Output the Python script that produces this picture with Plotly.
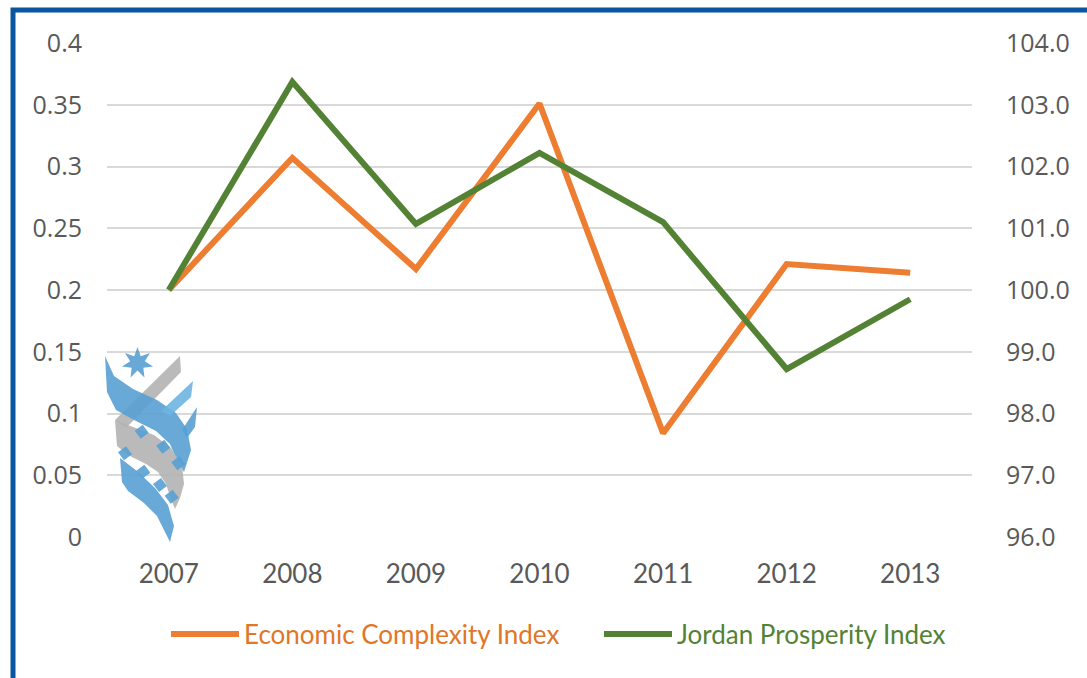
import plotly.graph_objects as go
import math

years = ["2007", "2008", "2009", "2010", "2011", "2012", "2013"]
eci = [0.200, 0.307, 0.217, 0.351, 0.084, 0.221, 0.214]
jpi = [100.0, 103.37, 101.07, 102.22, 101.10, 98.72, 99.85]
left_ticks = [0, 0.05, 0.1, 0.15, 0.2, 0.25, 0.3, 0.35, 0.4]
left_labels = ["0", "0.05", "0.1", "0.15", "0.2", "0.25", "0.3", "0.35", "0.4"]
right_ticks = [96, 97, 98, 99, 100, 101, 102, 103, 104]
right_labels = ["96.0", "97.0", "98.0", "99.0", "100.0", "101.0", "102.0", "103.0", "104.0"]

ORANGE = "#ED7D31"
GREEN = "#548235"
W, H = 1087, 678
PL, PR, PT, PB = 107, 972, 43, 537  # plot area in page pixels
L, T = PL, PT
R, B = W - PR, H - PB
PW, PH = PR - PL, PB - PT

def px(x, y):
    return (x - PL) / PW, (PB - y) / PH

def path(points):
    s = ""
    for i, (x, y) in enumerate(points):
        a, b = px(x, y)
        s += ("M" if i == 0 else "L") + f"{a:.5f},{b:.5f} "
    return s + "Z"

NARROW = "Lato, Liberation Sans, sans-serif"

fig = go.Figure()
fig.add_trace(go.Scatter(
    x=years, y=eci, mode="lines",
    name='<span style="color:#E07628">Economic Complexity Index</span>',
    line=dict(color=ORANGE, width=6), yaxis="y", legend="legend"))
fig.add_trace(go.Scatter(
    x=years, y=jpi, mode="lines",
    name=f'<span style="color:{GREEN}">Jordan Prosperity Index</span>',
    line=dict(color=GREEN, width=6), yaxis="y2", legend="legend2"))

shapes = []
x0, y0 = px(13, 10)
x1, y1 = px(1300, 900)
shapes.append(dict(type="rect", xref="paper", yref="paper", x0=x0, y0=y1, x1=x1, y1=y0,
                   line=dict(color="#0B55A0", width=5), layer="above"))

# decorative logo (approximation)
blue = "rgba(88,160,212,0.9)"
lblue = "rgba(110,180,225,0.9)"
grey = "rgba(178,178,178,0.9)"
star = []
cx, cy, ro, ri = 137.5, 363, 16, 7.5
for k in range(14):
    ang = -math.pi / 2 + k * math.pi / 7
    r = ro if k % 2 == 0 else ri
    star.append((cx + r * math.cos(ang), cy + r * math.sin(ang)))

def sq(cx_, cy_):
    return [(cx_ - 7, cy_ - 1), (cx_ + 1, cy_ - 7), (cx_ + 7, cy_ + 1), (cx_ - 1, cy_ + 7)]

logo = [
    (star, blue),
    ([(180, 356), (181, 372), (126, 428), (115, 420)], grey),
    ([(105, 356), (114, 376), (133, 389), (157, 400), (176, 413), (187, 429), (191, 450),
      (184, 472), (177, 460), (170, 444), (156, 431), (134, 420), (116, 410), (107, 392)], blue),
    ([(193, 381), (191, 397), (170, 416), (161, 411)], lblue),
    ([(197, 407), (195, 427), (187, 438), (182, 430)], blue),
    ([(115, 420), (133, 427), (154, 435), (171, 448), (182, 465), (184, 484),
      (180, 498), (175, 509), (171, 499), (166, 484), (158, 472), (146, 464),
      (128, 455), (117, 446)], grey),
    ([(120, 458), (137, 471), (155, 488), (168, 505), (174, 526), (170, 542),
      (165, 532), (157, 516), (144, 503), (128, 491), (122, 482)], blue),
]
for c in [(141.7, 431.7), (163.3, 446.7), (178.3, 463.3), (125, 453.3), (143.3, 471.7), (160, 485), (171.7, 496.7)]:
    logo.append((sq(*c), blue))
for pts, col in logo:
    shapes.append(dict(type="path", xref="paper", yref="paper", path=path(pts),
                       fillcolor=col, line=dict(width=0), layer="above"))

tickfont = dict(family="Open Sans, Liberation Sans, sans-serif", size=25, color="#595959")
legfont = dict(family=NARROW, size=26)
lx1, ly = px(166, 634)
lx2, _ = px(599, 634)
fig.update_layout(
    width=W, height=H,
    margin=dict(l=L, r=R, t=T, b=B, autoexpand=False),
    paper_bgcolor="white", plot_bgcolor="white",
    showlegend=True,
    legend=dict(orientation="h", x=lx1, xanchor="left", y=ly, yanchor="middle",
                font=legfont, itemwidth=68, bgcolor="rgba(0,0,0,0)"),
    legend2=dict(orientation="h", x=lx2, xanchor="left", y=ly, yanchor="middle",
                 font=legfont, itemwidth=68, bgcolor="rgba(0,0,0,0)"),
    xaxis=dict(type="category", range=[-0.5, 6.5], showgrid=False, zeroline=False,
               showline=False, ticks="", ticklabelstandoff=19,
               tickfont=dict(family=NARROW, size=26, color="#595959")),
    yaxis=dict(range=[0, 0.4], tickvals=left_ticks, ticktext=left_labels,
               showgrid=True, gridcolor="#D9D9D9", gridwidth=2, zeroline=False,
               showline=False, ticks="", tickfont=tickfont, ticklabelstandoff=24),
    yaxis2=dict(range=[96, 104], tickvals=right_ticks, ticktext=right_labels,
                overlaying="y", side="right", showgrid=False, zeroline=False,
                showline=False, ticks="", tickfont=tickfont, ticklabelstandoff=33),
    shapes=shapes,
)
fig.write_html("out.html", config={"displayModeBar": False},
               post_script="document.body.style.margin='0px';document.body.style.overflow='hidden';")
